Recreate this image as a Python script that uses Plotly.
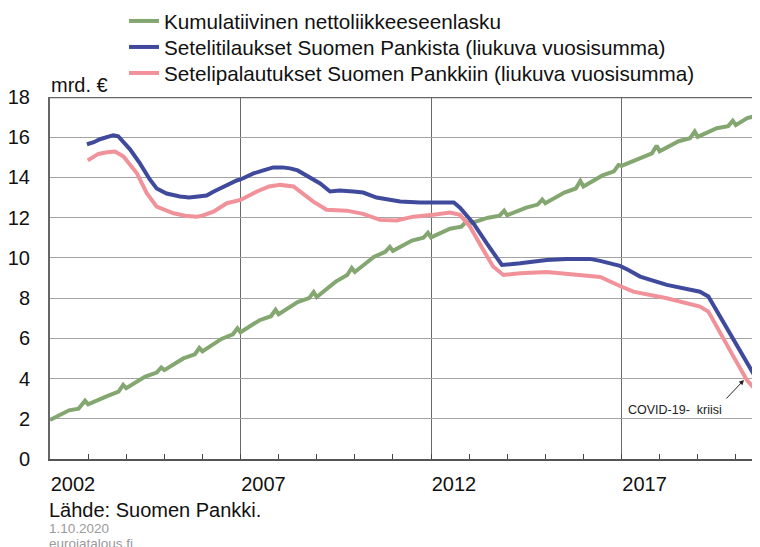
import plotly.graph_objects as go

# ---------------- data ----------------
green_t = [2002.0, 2002.25, 2002.5, 2002.75, 2002.92, 2003.0, 2003.25, 2003.5, 2003.8, 2003.92,
           2004.0, 2004.5, 2004.8, 2004.92, 2005.0, 2005.5, 2005.8, 2005.92, 2006.0, 2006.5,
           2006.8, 2006.92, 2007.0, 2007.5, 2007.8, 2007.92, 2008.0, 2008.5, 2008.8, 2008.92,
           2009.0, 2009.5, 2009.8, 2009.92, 2010.0, 2010.5, 2010.8, 2010.92, 2011.0, 2011.5,
           2011.8, 2011.92, 2012.0, 2012.5, 2012.8, 2012.92, 2013.0, 2013.5, 2013.8, 2013.92,
           2014.0, 2014.5, 2014.8, 2014.92, 2015.0, 2015.5, 2015.8, 2015.92, 2016.0, 2016.5,
           2016.8, 2016.92, 2017.0, 2017.5, 2017.8, 2017.92, 2018.0, 2018.5, 2018.8, 2018.92,
           2019.0, 2019.5, 2019.8, 2019.92, 2020.0, 2020.3, 2020.6]
green_v = [1.94, 2.2, 2.42, 2.5, 2.9, 2.72, 2.95, 3.13, 3.35, 3.68,
           3.52, 4.1, 4.3, 4.55, 4.42, 5.0, 5.2, 5.52, 5.35, 5.97,
           6.2, 6.5, 6.3, 6.9, 7.1, 7.42, 7.2, 7.8, 8.0, 8.3,
           8.05, 8.82, 9.15, 9.5, 9.3, 10.05, 10.3, 10.55, 10.35, 10.86,
           11.0, 11.25, 11.02, 11.45, 11.55, 11.8, 11.7, 12.0, 12.1, 12.35,
           12.12, 12.5, 12.65, 12.9, 12.72, 13.25, 13.45, 13.82, 13.55, 14.1,
           14.3, 14.62, 14.58, 15.0, 15.2, 15.58, 15.3, 15.8, 15.95, 16.28,
           16.02, 16.45, 16.55, 16.82, 16.6, 16.95, 17.1]

blue_t = [2002.97, 2003.15, 2003.31, 2003.5, 2003.66, 2003.79, 2003.95, 2004.1, 2004.36, 2004.62,
          2004.8, 2005.06, 2005.41, 2005.65, 2005.89, 2006.11, 2006.3, 2006.55, 2006.9, 2007.0,
          2007.34, 2007.6, 2007.86, 2008.1, 2008.3, 2008.5, 2008.74, 2009.09, 2009.35, 2009.6,
          2009.96, 2010.22, 2010.57, 2010.85, 2011.19, 2011.71, 2012.0, 2012.5, 2012.6, 2012.76,
          2013.11, 2013.46, 2013.75, 2013.86, 2014.34, 2015.04, 2015.56, 2016.17, 2016.44, 2016.96,
          2017.18, 2017.49, 2018.19, 2019.06, 2019.28, 2019.59, 2019.94, 2020.29, 2020.6]
blue_v = [15.65, 15.75, 15.9, 16.0, 16.1, 16.05, 15.75, 15.4, 14.7, 13.9,
          13.45, 13.2, 13.05, 13.0, 13.05, 13.1, 13.3, 13.55, 13.85, 13.9,
          14.2, 14.35, 14.5, 14.5, 14.45, 14.35, 14.1, 13.7, 13.3, 13.35,
          13.3, 13.25, 13.0, 12.9, 12.8, 12.75, 12.75, 12.75, 12.75, 12.5,
          11.73, 10.73, 9.9, 9.65, 9.73, 9.9, 9.95, 9.95, 9.85, 9.6,
          9.4, 9.07, 8.66, 8.32, 8.08, 7.08, 5.92, 4.76, 3.8]

pink_t = [2002.99, 2003.27, 2003.5, 2003.71, 2003.93, 2004.28, 2004.54, 2004.8, 2005.24, 2005.55,
          2005.85, 2006.0, 2006.29, 2006.64, 2007.0, 2007.43, 2007.75, 2008.04, 2008.39, 2008.65,
          2008.91, 2009.26, 2009.79, 2010.22, 2010.66, 2011.1, 2011.54, 2012.06, 2012.5, 2012.76,
          2013.02, 2013.37, 2013.63, 2013.9, 2014.34, 2015.04, 2015.74, 2016.44, 2016.96, 2017.31,
          2018.19, 2019.06, 2019.28, 2019.59, 2019.94, 2020.29, 2020.6]
pink_v = [14.85, 15.17, 15.25, 15.29, 15.04, 14.21, 13.22, 12.55, 12.22, 12.1,
          12.05, 12.1, 12.3, 12.72, 12.88, 13.3, 13.55, 13.63, 13.55, 13.2,
          12.8, 12.39, 12.35, 12.19, 11.89, 11.86, 12.05, 12.14, 12.25, 12.14,
          11.56, 10.4, 9.57, 9.15, 9.24, 9.3, 9.15, 9.05, 8.6, 8.32,
          7.99, 7.58, 7.33, 6.25, 5.09, 3.93, 3.27]

series_names = ["Kumulatiivinen nettoliikkeeseenlasku",
                "Setelitilaukset Suomen Pankista (liukuva vuosisumma)",
                "Setelipalautukset Suomen Pankkiin (liukuva vuosisumma)"]
colors = ["#84a772", "#3f4a9c", "#f1929a"]

y_ticks = [0, 2, 4, 6, 8, 10, 12, 14, 16, 18]
x_range = [2002.0, 2020.635]
covid_point = (2020.215, 3.93)

FONT = "Liberation Sans, Arial, sans-serif"
OFF = 8  # page body margin of the HTML page
W, H = 760 - OFF, 547 - OFF
L, R, T = 50 - OFF, 0, 97 - OFF
B = H - (459 - OFF)
PW, PH = W - L - R, H - T - B


def px(xp):  # reference-pixel x -> paper fraction
    return (xp - OFF - L) / PW


def py(yp):  # reference-pixel y -> paper fraction
    return (H - B - (yp - OFF)) / PH


legend_ids = ["legend", "legend2", "legend3"]
legend_centers = [21, 47, 73]

fig = go.Figure()
for t, v, name, c, lg in zip([green_t, blue_t, pink_t], [green_v, blue_v, pink_v],
                             series_names, colors, legend_ids):
    fig.add_trace(go.Scatter(x=t, y=v, mode="lines", name=name, legend=lg,
                             line=dict(color=c, width=4)))

legend_layout = {}
for lg, yc in zip(legend_ids, legend_centers):
    legend_layout[lg] = dict(xref="container", yref="container", x=(124 - OFF) / W,
                             y=1 - (yc - OFF) / H,
                             xanchor="left", yanchor="middle", bgcolor="rgba(0,0,0,0)",
                             font=dict(size=20.7, color="#111111"), itemwidth=30)

fig.update_layout(
    width=W, height=H,
    margin=dict(l=L, r=R, t=T, b=B, autoexpand=False),
    paper_bgcolor="white", plot_bgcolor="white",
    font=dict(family=FONT, size=20, color="#111111"),
    showlegend=True,
    xaxis=dict(range=x_range, tickmode="linear", tick0=2002, dtick=5, tickformat="d",
               showgrid=True, gridcolor="#6a6a6a", gridwidth=1,
               ticks="inside", ticklen=5, tickcolor="#444",
               minor=dict(dtick=1, tick0=2002, ticks="inside", ticklen=5, tickcolor="#444", showgrid=False),
               showline=True, linecolor="#555555", linewidth=2,
               zeroline=False, ticklabelshift=23, ticklabelstandoff=6,
               tickfont=dict(size=20, color="#111111")),
    yaxis=dict(range=[0, 18], tickvals=y_ticks, showgrid=True, gridcolor="#a3a3a3", gridwidth=1.2,
               showline=True, linecolor="#666666", linewidth=2, ticks="", zeroline=False,
               ticklabelstandoff=14, tickfont=dict(size=20, color="#111111")),
    **legend_layout,
)

# top frame line at 18
fig.add_shape(type="line", xref="paper", yref="y", x0=0, x1=1, y0=18, y1=18,
              line=dict(color="#666666", width=2.5))

fig.add_annotation(text="mrd. €", xref="paper", yref="paper", x=px(49), y=py(85), xanchor="left",
                   yanchor="middle", showarrow=False, font=dict(size=20, color="#111111"))
fig.add_annotation(text="Lähde: Suomen Pankki.", xref="paper", yref="paper",
                   x=px(47), y=py(510), xanchor="left", yanchor="middle", showarrow=False,
                   font=dict(size=20, color="#111111"))
fig.add_annotation(text="1.10.2020", xref="paper", yref="paper",
                   x=px(47), y=py(528), xanchor="left", yanchor="middle", showarrow=False,
                   font=dict(size=13.5, color="#9a9a9a"))
fig.add_annotation(text="eurojatalous.fi", xref="paper", yref="paper",
                   x=px(47), y=py(543), xanchor="left", yanchor="middle", showarrow=False,
                   font=dict(size=13.5, color="#9a9a9a"))

# COVID annotation
fig.add_annotation(text="COVID-19-\u00a0 kriisi", x=2018.40, y=2.44, xref="x", yref="y",
                   showarrow=False, font=dict(size=12.5, color="#222222"))
fig.add_annotation(text="", x=covid_point[0], y=covid_point[1], xref="x", yref="y",
                   showarrow=True, ax=-19, ay=20, arrowhead=2, arrowsize=1, arrowwidth=1,
                   arrowcolor="#222222")

fig.write_html("out.html")
